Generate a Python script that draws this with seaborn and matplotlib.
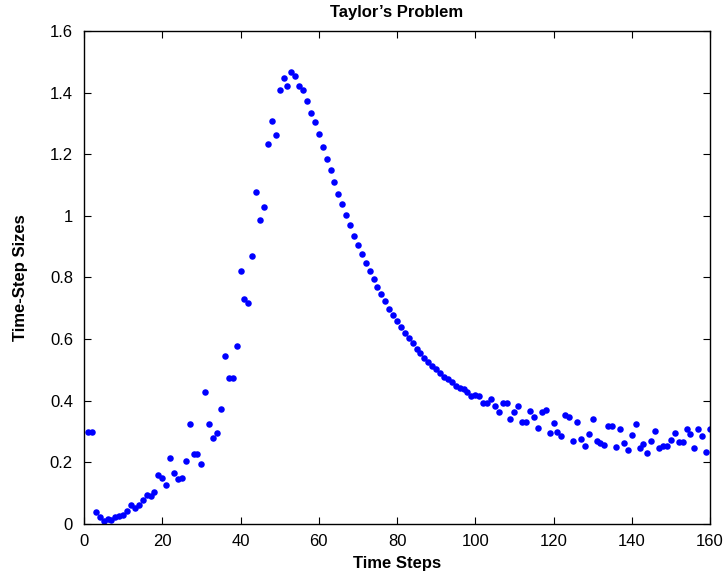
import numpy as np
import pandas as pd
import matplotlib
matplotlib.use("Agg")
import matplotlib.pyplot as plt
import seaborn as sns
from matplotlib.ticker import FormatStrFormatter

# time step index and the step size taken at each step
steps = list(range(1, 161))
sizes = [
    0.300, 0.300, 0.040, 0.022, 0.009, 0.015, 0.012, 0.022, 0.027, 0.029,
    0.042, 0.061, 0.053, 0.060, 0.077, 0.095, 0.090, 0.103, 0.158, 0.149,
    0.126, 0.213, 0.165, 0.147, 0.149, 0.206, 0.324, 0.226, 0.227, 0.196,
    0.429, 0.324, 0.279, 0.296, 0.373, 0.545, 0.474, 0.474, 0.578, 0.822,
    0.730, 0.718, 0.871, 1.077, 0.988, 1.028, 1.234, 1.309, 1.262, 1.407,
    1.448, 1.423, 1.466, 1.453, 1.421, 1.408, 1.374, 1.334, 1.304, 1.265,
    1.222, 1.185, 1.149, 1.109, 1.070, 1.039, 1.004, 0.969, 0.936, 0.907,
    0.877, 0.847, 0.820, 0.795, 0.769, 0.746, 0.723, 0.699, 0.679, 0.659,
    0.640, 0.620, 0.603, 0.587, 0.569, 0.554, 0.540, 0.527, 0.513, 0.502,
    0.491, 0.477, 0.470, 0.461, 0.449, 0.442, 0.437, 0.428, 0.414, 0.417,
    0.414, 0.394, 0.392, 0.405, 0.384, 0.365, 0.394, 0.391, 0.340, 0.364,
    0.383, 0.331, 0.332, 0.367, 0.346, 0.311, 0.363, 0.370, 0.294, 0.327,
    0.299, 0.286, 0.355, 0.346, 0.270, 0.332, 0.277, 0.252, 0.291, 0.340,
    0.268, 0.263, 0.257, 0.319, 0.318, 0.251, 0.307, 0.264, 0.240, 0.290,
    0.326, 0.248, 0.260, 0.230, 0.270, 0.303, 0.245, 0.253, 0.252, 0.273,
    0.294, 0.265, 0.265, 0.308, 0.292, 0.247, 0.307, 0.286, 0.235, 0.308,
]

df = pd.DataFrame({"step": steps, "size": sizes})

sns.set_style("ticks")
plt.rcParams['font.family'] = ['Liberation Sans', 'DejaVu Sans']
plt.rcParams['text.color'] = 'black'
plt.rcParams['axes.labelcolor'] = 'black'

fig = plt.figure(figsize=(7.25, 5.77), dpi=100)
ax = fig.add_axes([0.1159, 0.0919, 0.8634, 0.8544])

sns.scatterplot(data=df, x="step", y="size", color="#0000ff", s=22,
                linewidth=0, ax=ax)

ax.set_xlim(0, 160)
ax.set_ylim(0, 1.6)
ax.set_xticks(np.arange(0, 161, 20))
ax.set_yticks(np.arange(0, 1.61, 0.2))
ax.yaxis.set_major_formatter(FormatStrFormatter('%g'))
ax.tick_params(direction='in', top=True, right=True, length=5,
               width=0.8, labelsize=12, colors='black')
ax.tick_params(axis='x', pad=7)
ax.tick_params(axis='y', pad=8)
for sp in ax.spines.values():
    sp.set_linewidth(1.0)
    sp.set_color('black')

ax.set_xlabel("Time Steps", fontsize=12, fontweight='bold', labelpad=5)
ax.set_ylabel("Time-Step Sizes", fontsize=12, fontweight='bold', labelpad=16)
ax.set_title("Taylor\u2019s Problem", fontsize=12, fontweight='bold', pad=10)

fig.savefig("out.png", dpi=100)
